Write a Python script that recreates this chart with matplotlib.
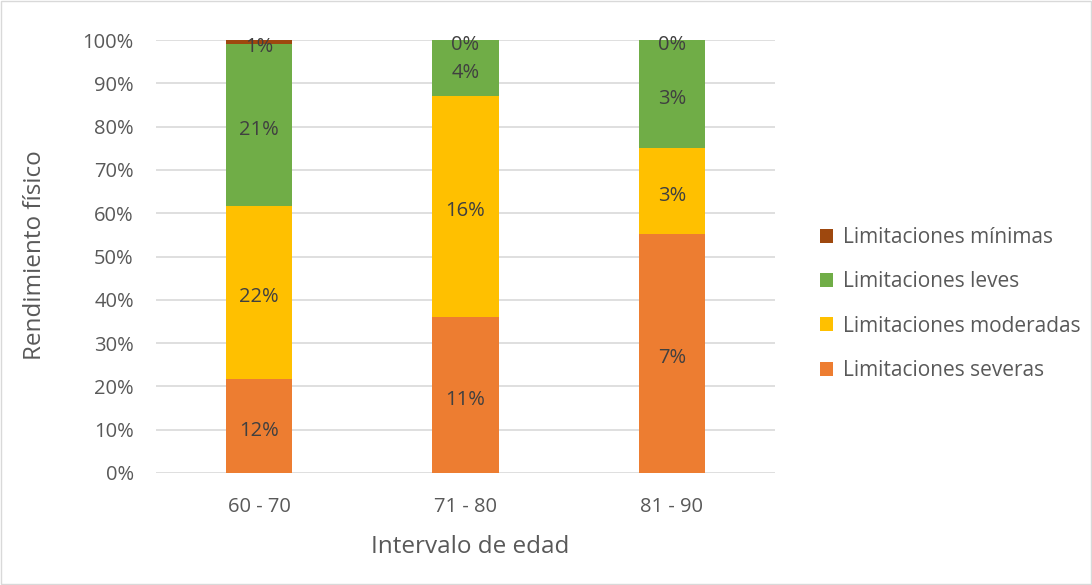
import matplotlib
matplotlib.use("Agg")
import matplotlib.pyplot as plt
import numpy as np
from matplotlib.transforms import offset_copy

categories = ["60 - 70", "71 - 80", "81 - 90"]
series_names = ["Limitaciones severas", "Limitaciones moderadas", "Limitaciones leves", "Limitaciones mínimas"]
# bar heights (share within each age group, %)
severas = [21.8, 36.0, 55.3]
moderadas = [39.9, 51.1, 19.7]
leves = [37.3, 12.9, 25.0]
minimas = [1.0, 0.0, 0.0]
# data-label texts shown on the segments
lab_severas = ["12%", "11%", "7%"]
lab_moderadas = ["22%", "16%", "3%"]
lab_leves = ["21%", "4%", "3%"]
lab_minimas = ["1%", "0%", "0%"]

colors = ["#ED7D31", "#FFC000", "#70AD47", "#9E480E"]
series = [severas, moderadas, leves, minimas]
labels = [lab_severas, lab_moderadas, lab_leves, lab_minimas]

plt.rcParams['font.family'] = ['Open Sans', 'DejaVu Sans']
fig = plt.figure(figsize=(10.92, 5.85), dpi=100)
ax = fig.add_axes([156/1092, 112/585, 619/1092, 433/585])

x = np.arange(len(categories))
bottom = np.zeros(len(categories))
handles = []
lab_tr = offset_copy(ax.transData, fig=fig, x=0, y=-5, units='dots')
for vals, col, name, labs in zip(series, colors, series_names, labels):
    vals = np.array(vals)
    b = ax.bar(x, vals, width=0.32, bottom=bottom, color=col, label=name, zorder=3)
    handles.append(b)
    for xi, v, bt, t in zip(x, vals, bottom, labs):
        ax.text(xi, bt + v/2, t, ha='center', va='center', fontsize=14.5, color='#404040',
                zorder=4, transform=lab_tr)
    bottom = bottom + vals

ax.set_xlim(-0.5, 2.5)
ax.set_ylim(0, 100)
ax.set_yticks(np.arange(0, 101, 10))
ax.set_yticklabels([f"{v}%" for v in range(0, 101, 10)])
ax.set_xticks(x)
ax.set_xticklabels(categories)
ax.tick_params(axis='both', length=0, labelsize=14.5, labelcolor='#595959')
ax.tick_params(axis='x', pad=17)
ax.tick_params(axis='y', pad=16)
ax.grid(axis='y', color='#D9D9D9', linewidth=1.2, zorder=0)
for s in ax.spines.values():
    s.set_visible(False)

fig.text(35/1092, 1 - 255/585, "Rendimiento físico", rotation=90, ha='center', va='center',
         fontsize=17.5, color='#595959')
fig.text(470/1092, 1 - 547/585, "Intervalo de edad", ha='center', va='center',
         fontsize=17.5, color='#595959')

leg = fig.legend(handles[::-1], series_names[::-1], loc='center left',
                 bbox_to_anchor=(801/1092, 1 - 304/585), frameon=False,
                 fontsize=15, labelcolor='#595959', handlelength=0.65, handleheight=0.65,
                 handletextpad=0.45, labelspacing=1.12)

fig.patches.append(plt.Rectangle((0.001, 0.001), 0.998, 0.998, transform=fig.transFigure,
                                 fill=False, edgecolor='#D9D9D9', linewidth=1))
fig.savefig("out.png", dpi=100)
